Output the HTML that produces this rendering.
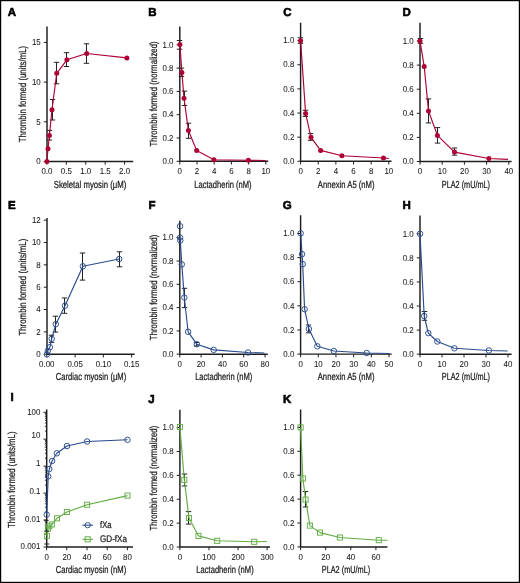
<!DOCTYPE html>
<html><head><meta charset="utf-8"><style>
html,body{margin:0;padding:0;background:#fff;}
svg{display:block;font-family:"Liberation Sans", sans-serif;will-change:transform;text-rendering:geometricPrecision;}
</style></head><body>
<svg width="520" height="583" viewBox="0 0 520 583">
<rect x="0" y="0" width="520" height="583" fill="#fff"/>
<path d="M47 26.5V161.5H133.2" fill="none" stroke="#1e1e1e" stroke-width="1.45"/>
<path d="M43.8 161.5H47" stroke="#1e1e1e" stroke-width="1"/>
<text transform="translate(40.7,164.2) scale(0.92,1)" font-size="8.6" fill="#1a1a1a" stroke="#1a1a1a" stroke-width="0.06" text-anchor="end">0</text>
<path d="M43.8 121.8H47" stroke="#1e1e1e" stroke-width="1"/>
<text transform="translate(40.7,124.5) scale(0.92,1)" font-size="8.6" fill="#1a1a1a" stroke="#1a1a1a" stroke-width="0.06" text-anchor="end">5</text>
<path d="M43.8 82.1H47" stroke="#1e1e1e" stroke-width="1"/>
<text transform="translate(40.7,84.8) scale(0.92,1)" font-size="8.6" fill="#1a1a1a" stroke="#1a1a1a" stroke-width="0.06" text-anchor="end">10</text>
<path d="M43.8 42.4H47" stroke="#1e1e1e" stroke-width="1"/>
<text transform="translate(40.7,45.1) scale(0.92,1)" font-size="8.6" fill="#1a1a1a" stroke="#1a1a1a" stroke-width="0.06" text-anchor="end">15</text>
<path d="M46.9 161.5V164.7" stroke="#1e1e1e" stroke-width="1"/>
<text transform="translate(46.9,174.4) scale(0.92,1)" font-size="8.6" fill="#1a1a1a" stroke="#1a1a1a" stroke-width="0.06" text-anchor="middle">0.0</text>
<path d="M66.33 161.5V164.7" stroke="#1e1e1e" stroke-width="1"/>
<text transform="translate(66.33,174.4) scale(0.92,1)" font-size="8.6" fill="#1a1a1a" stroke="#1a1a1a" stroke-width="0.06" text-anchor="middle">0.5</text>
<path d="M85.75 161.5V164.7" stroke="#1e1e1e" stroke-width="1"/>
<text transform="translate(85.75,174.4) scale(0.92,1)" font-size="8.6" fill="#1a1a1a" stroke="#1a1a1a" stroke-width="0.06" text-anchor="middle">1.0</text>
<path d="M105.18 161.5V164.7" stroke="#1e1e1e" stroke-width="1"/>
<text transform="translate(105.18,174.4) scale(0.92,1)" font-size="8.6" fill="#1a1a1a" stroke="#1a1a1a" stroke-width="0.06" text-anchor="middle">1.5</text>
<path d="M124.6 161.5V164.7" stroke="#1e1e1e" stroke-width="1"/>
<text transform="translate(124.6,174.4) scale(0.92,1)" font-size="8.6" fill="#1a1a1a" stroke="#1a1a1a" stroke-width="0.06" text-anchor="middle">2.0</text>
<text transform="translate(90,187.7)" font-size="10.2" fill="#1a1a1a" stroke="#1a1a1a" stroke-width="0.24" text-anchor="middle" textLength="72.6" lengthAdjust="spacingAndGlyphs">Skeletal myosin (μM)</text>
<text transform="translate(26.2,94.05) rotate(-90)" font-size="10.2" fill="#1a1a1a" stroke="#1a1a1a" stroke-width="0.24" text-anchor="middle" textLength="96.4" lengthAdjust="spacingAndGlyphs">Thrombin formed (units/mL)</text>
<text transform="translate(7.8,16.3)" font-size="11.5" fill="#000" stroke="#000" stroke-width="0.6" font-weight="bold">A</text>
<path d="M49.5 130.4V140M46.8 130.4h5.4M46.8 140h5.4" fill="none" stroke="#222" stroke-width="1"/>
<path d="M52.5 99.5V120M49.8 99.5h5.4M49.8 120h5.4" fill="none" stroke="#222" stroke-width="1"/>
<path d="M56.5 62.3V83.8M53.8 62.3h5.4M53.8 83.8h5.4" fill="none" stroke="#222" stroke-width="1"/>
<path d="M66.5 52.7V66.5M63.8 52.7h5.4M63.8 66.5h5.4" fill="none" stroke="#222" stroke-width="1"/>
<path d="M86.5 43.8V63.3M83.8 43.8h5.4M83.8 63.3h5.4" fill="none" stroke="#222" stroke-width="1"/>
<path d="M46.9 161.5 L48 148.8 L49.4 135.6 L52 109.7 L56.7 73.3 L66.9 59.8 L86.7 53.5 L126.9 57.9" fill="none" stroke="#ad0033" stroke-width="1.15" stroke-linejoin="round"/>
<circle cx="46.9" cy="161.5" r="2.5" fill="#ad0033"/>
<circle cx="48" cy="148.8" r="2.5" fill="#ad0033"/>
<circle cx="49.4" cy="135.6" r="2.5" fill="#ad0033"/>
<circle cx="52" cy="109.7" r="2.5" fill="#ad0033"/>
<circle cx="56.7" cy="73.3" r="2.5" fill="#ad0033"/>
<circle cx="66.9" cy="59.8" r="2.5" fill="#ad0033"/>
<circle cx="86.7" cy="53.5" r="2.5" fill="#ad0033"/>
<circle cx="126.9" cy="57.9" r="2.5" fill="#ad0033"/>
<path d="M179.8 26.5V161.3H268.3" fill="none" stroke="#1e1e1e" stroke-width="1.45"/>
<path d="M176.6 161.3H179.8" stroke="#1e1e1e" stroke-width="1"/>
<text transform="translate(173.5,164) scale(0.92,1)" font-size="8.6" fill="#1a1a1a" stroke="#1a1a1a" stroke-width="0.06" text-anchor="end">0.0</text>
<path d="M176.6 138H179.8" stroke="#1e1e1e" stroke-width="1"/>
<text transform="translate(173.5,140.7) scale(0.92,1)" font-size="8.6" fill="#1a1a1a" stroke="#1a1a1a" stroke-width="0.06" text-anchor="end">0.2</text>
<path d="M176.6 114.7H179.8" stroke="#1e1e1e" stroke-width="1"/>
<text transform="translate(173.5,117.4) scale(0.92,1)" font-size="8.6" fill="#1a1a1a" stroke="#1a1a1a" stroke-width="0.06" text-anchor="end">0.4</text>
<path d="M176.6 91.4H179.8" stroke="#1e1e1e" stroke-width="1"/>
<text transform="translate(173.5,94.1) scale(0.92,1)" font-size="8.6" fill="#1a1a1a" stroke="#1a1a1a" stroke-width="0.06" text-anchor="end">0.6</text>
<path d="M176.6 68.1H179.8" stroke="#1e1e1e" stroke-width="1"/>
<text transform="translate(173.5,70.8) scale(0.92,1)" font-size="8.6" fill="#1a1a1a" stroke="#1a1a1a" stroke-width="0.06" text-anchor="end">0.8</text>
<path d="M176.6 44.8H179.8" stroke="#1e1e1e" stroke-width="1"/>
<text transform="translate(173.5,47.5) scale(0.92,1)" font-size="8.6" fill="#1a1a1a" stroke="#1a1a1a" stroke-width="0.06" text-anchor="end">1.0</text>
<path d="M179.8 161.3V164.5" stroke="#1e1e1e" stroke-width="1"/>
<text transform="translate(179.8,174.2) scale(0.92,1)" font-size="8.6" fill="#1a1a1a" stroke="#1a1a1a" stroke-width="0.06" text-anchor="middle">0</text>
<path d="M197 161.3V164.5" stroke="#1e1e1e" stroke-width="1"/>
<text transform="translate(197,174.2) scale(0.92,1)" font-size="8.6" fill="#1a1a1a" stroke="#1a1a1a" stroke-width="0.06" text-anchor="middle">2</text>
<path d="M214.2 161.3V164.5" stroke="#1e1e1e" stroke-width="1"/>
<text transform="translate(214.2,174.2) scale(0.92,1)" font-size="8.6" fill="#1a1a1a" stroke="#1a1a1a" stroke-width="0.06" text-anchor="middle">4</text>
<path d="M231.4 161.3V164.5" stroke="#1e1e1e" stroke-width="1"/>
<text transform="translate(231.4,174.2) scale(0.92,1)" font-size="8.6" fill="#1a1a1a" stroke="#1a1a1a" stroke-width="0.06" text-anchor="middle">6</text>
<path d="M248.6 161.3V164.5" stroke="#1e1e1e" stroke-width="1"/>
<text transform="translate(248.6,174.2) scale(0.92,1)" font-size="8.6" fill="#1a1a1a" stroke="#1a1a1a" stroke-width="0.06" text-anchor="middle">8</text>
<path d="M265.8 161.3V164.5" stroke="#1e1e1e" stroke-width="1"/>
<text transform="translate(265.8,174.2) scale(0.92,1)" font-size="8.6" fill="#1a1a1a" stroke="#1a1a1a" stroke-width="0.06" text-anchor="middle">10</text>
<text transform="translate(222.9,187.5)" font-size="10.2" fill="#1a1a1a" stroke="#1a1a1a" stroke-width="0.24" text-anchor="middle" textLength="57.3" lengthAdjust="spacingAndGlyphs">Lactadherin (nM)</text>
<text transform="translate(156.8,93.9) rotate(-90)" font-size="10.2" fill="#1a1a1a" stroke="#1a1a1a" stroke-width="0.24" text-anchor="middle" textLength="105.1" lengthAdjust="spacingAndGlyphs">Thrombin formed (normalized)</text>
<text transform="translate(148.3,16)" font-size="11.5" fill="#000" stroke="#000" stroke-width="0.6" font-weight="bold">B</text>
<path d="M179.5 40.5V49.2M176.8 40.5h5.4M176.8 49.2h5.4" fill="none" stroke="#222" stroke-width="1"/>
<path d="M181.5 68.1V76.5M178.8 68.1h5.4M178.8 76.5h5.4" fill="none" stroke="#222" stroke-width="1"/>
<path d="M184.5 91.1V105.5M181.8 91.1h5.4M181.8 105.5h5.4" fill="none" stroke="#222" stroke-width="1"/>
<path d="M188.5 123.2V138.3M185.8 123.2h5.4M185.8 138.3h5.4" fill="none" stroke="#222" stroke-width="1"/>
<path d="M179.9 44.6 L181.9 72.4 L184 98.2 L188.4 130.5 L196.7 150.6 L213.9 159.7 L248.3 160.2 L265.7 160.5" fill="none" stroke="#ad0033" stroke-width="1.15" stroke-linejoin="round"/>
<circle cx="179.9" cy="44.6" r="2.5" fill="#ad0033"/>
<circle cx="181.9" cy="72.4" r="2.5" fill="#ad0033"/>
<circle cx="184" cy="98.2" r="2.5" fill="#ad0033"/>
<circle cx="188.4" cy="130.5" r="2.5" fill="#ad0033"/>
<circle cx="196.7" cy="150.6" r="2.5" fill="#ad0033"/>
<circle cx="213.9" cy="159.7" r="2.5" fill="#ad0033"/>
<circle cx="248.3" cy="160.2" r="2.5" fill="#ad0033"/>
<path d="M300.6 22.8V161.3H391.5" fill="none" stroke="#1e1e1e" stroke-width="1.45"/>
<path d="M297.4 161.3H300.6" stroke="#1e1e1e" stroke-width="1"/>
<text transform="translate(294.3,164) scale(0.92,1)" font-size="8.6" fill="#1a1a1a" stroke="#1a1a1a" stroke-width="0.06" text-anchor="end">0.0</text>
<path d="M297.4 137.16H300.6" stroke="#1e1e1e" stroke-width="1"/>
<text transform="translate(294.3,139.86) scale(0.92,1)" font-size="8.6" fill="#1a1a1a" stroke="#1a1a1a" stroke-width="0.06" text-anchor="end">0.2</text>
<path d="M297.4 113.02H300.6" stroke="#1e1e1e" stroke-width="1"/>
<text transform="translate(294.3,115.72) scale(0.92,1)" font-size="8.6" fill="#1a1a1a" stroke="#1a1a1a" stroke-width="0.06" text-anchor="end">0.4</text>
<path d="M297.4 88.88H300.6" stroke="#1e1e1e" stroke-width="1"/>
<text transform="translate(294.3,91.58) scale(0.92,1)" font-size="8.6" fill="#1a1a1a" stroke="#1a1a1a" stroke-width="0.06" text-anchor="end">0.6</text>
<path d="M297.4 64.74H300.6" stroke="#1e1e1e" stroke-width="1"/>
<text transform="translate(294.3,67.44) scale(0.92,1)" font-size="8.6" fill="#1a1a1a" stroke="#1a1a1a" stroke-width="0.06" text-anchor="end">0.8</text>
<path d="M297.4 40.6H300.6" stroke="#1e1e1e" stroke-width="1"/>
<text transform="translate(294.3,43.3) scale(0.92,1)" font-size="8.6" fill="#1a1a1a" stroke="#1a1a1a" stroke-width="0.06" text-anchor="end">1.0</text>
<path d="M300.6 161.3V164.5" stroke="#1e1e1e" stroke-width="1"/>
<text transform="translate(300.6,174.2) scale(0.92,1)" font-size="8.6" fill="#1a1a1a" stroke="#1a1a1a" stroke-width="0.06" text-anchor="middle">0</text>
<path d="M318.24 161.3V164.5" stroke="#1e1e1e" stroke-width="1"/>
<text transform="translate(318.24,174.2) scale(0.92,1)" font-size="8.6" fill="#1a1a1a" stroke="#1a1a1a" stroke-width="0.06" text-anchor="middle">2</text>
<path d="M335.88 161.3V164.5" stroke="#1e1e1e" stroke-width="1"/>
<text transform="translate(335.88,174.2) scale(0.92,1)" font-size="8.6" fill="#1a1a1a" stroke="#1a1a1a" stroke-width="0.06" text-anchor="middle">4</text>
<path d="M353.52 161.3V164.5" stroke="#1e1e1e" stroke-width="1"/>
<text transform="translate(353.52,174.2) scale(0.92,1)" font-size="8.6" fill="#1a1a1a" stroke="#1a1a1a" stroke-width="0.06" text-anchor="middle">6</text>
<path d="M371.16 161.3V164.5" stroke="#1e1e1e" stroke-width="1"/>
<text transform="translate(371.16,174.2) scale(0.92,1)" font-size="8.6" fill="#1a1a1a" stroke="#1a1a1a" stroke-width="0.06" text-anchor="middle">8</text>
<path d="M388.8 161.3V164.5" stroke="#1e1e1e" stroke-width="1"/>
<text transform="translate(388.8,174.2) scale(0.92,1)" font-size="8.6" fill="#1a1a1a" stroke="#1a1a1a" stroke-width="0.06" text-anchor="middle">10</text>
<text transform="translate(346.2,187.5)" font-size="10.2" fill="#1a1a1a" stroke="#1a1a1a" stroke-width="0.24" text-anchor="middle" textLength="56.7" lengthAdjust="spacingAndGlyphs">Annexin A5 (nM)</text>
<text transform="translate(283.2,16.3)" font-size="11.5" fill="#000" stroke="#000" stroke-width="0.6" font-weight="bold">C</text>
<path d="M300.5 37.8V43.3M297.8 37.8h5.4M297.8 43.3h5.4" fill="none" stroke="#222" stroke-width="1"/>
<path d="M305.5 110.3V116.4M302.8 110.3h5.4M302.8 116.4h5.4" fill="none" stroke="#222" stroke-width="1"/>
<path d="M310.5 133.6V140.3M307.8 133.6h5.4M307.8 140.3h5.4" fill="none" stroke="#222" stroke-width="1"/>
<path d="M300.6 40.65 L305.6 113.4 L311 137.3 L320.6 150.4 L341.9 155.8 L383.5 158 L388.9 158.5" fill="none" stroke="#ad0033" stroke-width="1.15" stroke-linejoin="round"/>
<circle cx="300.6" cy="40.65" r="2.5" fill="#ad0033"/>
<circle cx="305.6" cy="113.4" r="2.5" fill="#ad0033"/>
<circle cx="311" cy="137.3" r="2.5" fill="#ad0033"/>
<circle cx="320.6" cy="150.4" r="2.5" fill="#ad0033"/>
<circle cx="341.9" cy="155.8" r="2.5" fill="#ad0033"/>
<circle cx="383.5" cy="158" r="2.5" fill="#ad0033"/>
<path d="M420 22.8V161.5H511.6" fill="none" stroke="#1e1e1e" stroke-width="1.45"/>
<path d="M416.8 161.5H420" stroke="#1e1e1e" stroke-width="1"/>
<text transform="translate(413.7,164.2) scale(0.92,1)" font-size="8.6" fill="#1a1a1a" stroke="#1a1a1a" stroke-width="0.06" text-anchor="end">0.0</text>
<path d="M416.8 137.4H420" stroke="#1e1e1e" stroke-width="1"/>
<text transform="translate(413.7,140.1) scale(0.92,1)" font-size="8.6" fill="#1a1a1a" stroke="#1a1a1a" stroke-width="0.06" text-anchor="end">0.2</text>
<path d="M416.8 113.3H420" stroke="#1e1e1e" stroke-width="1"/>
<text transform="translate(413.7,116) scale(0.92,1)" font-size="8.6" fill="#1a1a1a" stroke="#1a1a1a" stroke-width="0.06" text-anchor="end">0.4</text>
<path d="M416.8 89.2H420" stroke="#1e1e1e" stroke-width="1"/>
<text transform="translate(413.7,91.9) scale(0.92,1)" font-size="8.6" fill="#1a1a1a" stroke="#1a1a1a" stroke-width="0.06" text-anchor="end">0.6</text>
<path d="M416.8 65.1H420" stroke="#1e1e1e" stroke-width="1"/>
<text transform="translate(413.7,67.8) scale(0.92,1)" font-size="8.6" fill="#1a1a1a" stroke="#1a1a1a" stroke-width="0.06" text-anchor="end">0.8</text>
<path d="M416.8 41H420" stroke="#1e1e1e" stroke-width="1"/>
<text transform="translate(413.7,43.7) scale(0.92,1)" font-size="8.6" fill="#1a1a1a" stroke="#1a1a1a" stroke-width="0.06" text-anchor="end">1.0</text>
<path d="M420 161.5V164.7" stroke="#1e1e1e" stroke-width="1"/>
<text transform="translate(420,174.4) scale(0.92,1)" font-size="8.6" fill="#1a1a1a" stroke="#1a1a1a" stroke-width="0.06" text-anchor="middle">0</text>
<path d="M442.2 161.5V164.7" stroke="#1e1e1e" stroke-width="1"/>
<text transform="translate(442.2,174.4) scale(0.92,1)" font-size="8.6" fill="#1a1a1a" stroke="#1a1a1a" stroke-width="0.06" text-anchor="middle">10</text>
<path d="M464.4 161.5V164.7" stroke="#1e1e1e" stroke-width="1"/>
<text transform="translate(464.4,174.4) scale(0.92,1)" font-size="8.6" fill="#1a1a1a" stroke="#1a1a1a" stroke-width="0.06" text-anchor="middle">20</text>
<path d="M486.6 161.5V164.7" stroke="#1e1e1e" stroke-width="1"/>
<text transform="translate(486.6,174.4) scale(0.92,1)" font-size="8.6" fill="#1a1a1a" stroke="#1a1a1a" stroke-width="0.06" text-anchor="middle">30</text>
<path d="M508.8 161.5V164.7" stroke="#1e1e1e" stroke-width="1"/>
<text transform="translate(508.8,174.4) scale(0.92,1)" font-size="8.6" fill="#1a1a1a" stroke="#1a1a1a" stroke-width="0.06" text-anchor="middle">40</text>
<text transform="translate(465.9,187.7)" font-size="10.2" fill="#1a1a1a" stroke="#1a1a1a" stroke-width="0.24" text-anchor="middle" textLength="48.2" lengthAdjust="spacingAndGlyphs">PLA2 (mU/mL)</text>
<text transform="translate(402.4,16)" font-size="11.5" fill="#000" stroke="#000" stroke-width="0.6" font-weight="bold">D</text>
<path d="M420.5 38.5V43.3M417.8 38.5h5.4M417.8 43.3h5.4" fill="none" stroke="#222" stroke-width="1"/>
<path d="M428.5 98.9V122.9M425.8 98.9h5.4M425.8 122.9h5.4" fill="none" stroke="#222" stroke-width="1"/>
<path d="M437.5 127.6V143.1M434.8 127.6h5.4M434.8 143.1h5.4" fill="none" stroke="#222" stroke-width="1"/>
<path d="M454.5 148V155.2M451.8 148h5.4M451.8 155.2h5.4" fill="none" stroke="#222" stroke-width="1"/>
<path d="M420 40.9 L424.2 66.4 L428.5 111 L437.4 135.4 L454.5 152.1 L488.9 158.5 L508 159.4" fill="none" stroke="#ad0033" stroke-width="1.15" stroke-linejoin="round"/>
<circle cx="420" cy="40.9" r="2.5" fill="#ad0033"/>
<circle cx="424.2" cy="66.4" r="2.5" fill="#ad0033"/>
<circle cx="428.5" cy="111" r="2.5" fill="#ad0033"/>
<circle cx="437.4" cy="135.4" r="2.5" fill="#ad0033"/>
<circle cx="454.5" cy="152.1" r="2.5" fill="#ad0033"/>
<circle cx="488.9" cy="158.5" r="2.5" fill="#ad0033"/>
<path d="M47 218V354.2H134.7" fill="none" stroke="#1e1e1e" stroke-width="1.45"/>
<path d="M43.8 354.2H47" stroke="#1e1e1e" stroke-width="1"/>
<text transform="translate(40.7,356.9) scale(0.92,1)" font-size="8.6" fill="#1a1a1a" stroke="#1a1a1a" stroke-width="0.06" text-anchor="end">0</text>
<path d="M43.8 331.86H47" stroke="#1e1e1e" stroke-width="1"/>
<text transform="translate(40.7,334.56) scale(0.92,1)" font-size="8.6" fill="#1a1a1a" stroke="#1a1a1a" stroke-width="0.06" text-anchor="end">2</text>
<path d="M43.8 309.52H47" stroke="#1e1e1e" stroke-width="1"/>
<text transform="translate(40.7,312.22) scale(0.92,1)" font-size="8.6" fill="#1a1a1a" stroke="#1a1a1a" stroke-width="0.06" text-anchor="end">4</text>
<path d="M43.8 287.18H47" stroke="#1e1e1e" stroke-width="1"/>
<text transform="translate(40.7,289.88) scale(0.92,1)" font-size="8.6" fill="#1a1a1a" stroke="#1a1a1a" stroke-width="0.06" text-anchor="end">6</text>
<path d="M43.8 264.84H47" stroke="#1e1e1e" stroke-width="1"/>
<text transform="translate(40.7,267.54) scale(0.92,1)" font-size="8.6" fill="#1a1a1a" stroke="#1a1a1a" stroke-width="0.06" text-anchor="end">8</text>
<path d="M43.8 242.5H47" stroke="#1e1e1e" stroke-width="1"/>
<text transform="translate(40.7,245.2) scale(0.92,1)" font-size="8.6" fill="#1a1a1a" stroke="#1a1a1a" stroke-width="0.06" text-anchor="end">10</text>
<path d="M43.8 220.16H47" stroke="#1e1e1e" stroke-width="1"/>
<text transform="translate(40.7,222.86) scale(0.92,1)" font-size="8.6" fill="#1a1a1a" stroke="#1a1a1a" stroke-width="0.06" text-anchor="end">12</text>
<path d="M46.8 354.2V357.4" stroke="#1e1e1e" stroke-width="1"/>
<text transform="translate(46.8,367.1) scale(0.92,1)" font-size="8.6" fill="#1a1a1a" stroke="#1a1a1a" stroke-width="0.06" text-anchor="middle">0.00</text>
<path d="M75.08 354.2V357.4" stroke="#1e1e1e" stroke-width="1"/>
<text transform="translate(75.08,367.1) scale(0.92,1)" font-size="8.6" fill="#1a1a1a" stroke="#1a1a1a" stroke-width="0.06" text-anchor="middle">0.05</text>
<path d="M103.35 354.2V357.4" stroke="#1e1e1e" stroke-width="1"/>
<text transform="translate(103.35,367.1) scale(0.92,1)" font-size="8.6" fill="#1a1a1a" stroke="#1a1a1a" stroke-width="0.06" text-anchor="middle">0.10</text>
<path d="M131.62 354.2V357.4" stroke="#1e1e1e" stroke-width="1"/>
<text transform="translate(131.62,367.1) scale(0.92,1)" font-size="8.6" fill="#1a1a1a" stroke="#1a1a1a" stroke-width="0.06" text-anchor="middle">0.15</text>
<text transform="translate(91,380.4)" font-size="10.2" fill="#1a1a1a" stroke="#1a1a1a" stroke-width="0.24" text-anchor="middle" textLength="70.5" lengthAdjust="spacingAndGlyphs">Cardiac myosin (μM)</text>
<text transform="translate(25.9,287.15) rotate(-90)" font-size="10.2" fill="#1a1a1a" stroke="#1a1a1a" stroke-width="0.24" text-anchor="middle" textLength="96.8" lengthAdjust="spacingAndGlyphs">Thrombin formed (units/mL)</text>
<text transform="translate(8,208.6)" font-size="11.5" fill="#000" stroke="#000" stroke-width="0.6" font-weight="bold">E</text>
<path d="M51.5 335.2V342.4M48.8 335.2h5.4M48.8 342.4h5.4" fill="none" stroke="#222" stroke-width="1"/>
<path d="M55.5 316.2V332.1M52.8 316.2h5.4M52.8 332.1h5.4" fill="none" stroke="#222" stroke-width="1"/>
<path d="M64.5 298V313.3M61.8 298h5.4M61.8 313.3h5.4" fill="none" stroke="#222" stroke-width="1"/>
<path d="M82.5 253V280.1M79.8 253h5.4M79.8 280.1h5.4" fill="none" stroke="#222" stroke-width="1"/>
<path d="M119.5 251.8V266.8M116.8 251.8h5.4M116.8 266.8h5.4" fill="none" stroke="#222" stroke-width="1"/>
<path d="M46.9 354.4 L47.8 350.8 L49.9 347.2 L51.7 338.8 L55.8 324.2 L65 305.7 L82.9 266.3 L119.2 259" fill="none" stroke="#294b8d" stroke-width="1.15" stroke-linejoin="round"/>
<circle cx="46.9" cy="354.4" r="2.75" fill="none" stroke="#294b8d" stroke-width="0.95"/>
<circle cx="47.8" cy="350.8" r="2.75" fill="none" stroke="#294b8d" stroke-width="0.95"/>
<circle cx="49.9" cy="347.2" r="2.75" fill="none" stroke="#294b8d" stroke-width="0.95"/>
<circle cx="51.7" cy="338.8" r="2.75" fill="none" stroke="#294b8d" stroke-width="0.95"/>
<circle cx="55.8" cy="324.2" r="2.75" fill="none" stroke="#294b8d" stroke-width="0.95"/>
<circle cx="65" cy="305.7" r="2.75" fill="none" stroke="#294b8d" stroke-width="0.95"/>
<circle cx="82.9" cy="266.3" r="2.75" fill="none" stroke="#294b8d" stroke-width="0.95"/>
<circle cx="119.2" cy="259" r="2.75" fill="none" stroke="#294b8d" stroke-width="0.95"/>
<path d="M179.8 220.8V354.2H267.8" fill="none" stroke="#1e1e1e" stroke-width="1.45"/>
<path d="M176.6 354.2H179.8" stroke="#1e1e1e" stroke-width="1"/>
<text transform="translate(173.5,356.9) scale(0.92,1)" font-size="8.6" fill="#1a1a1a" stroke="#1a1a1a" stroke-width="0.06" text-anchor="end">0.0</text>
<path d="M176.6 330.9H179.8" stroke="#1e1e1e" stroke-width="1"/>
<text transform="translate(173.5,333.6) scale(0.92,1)" font-size="8.6" fill="#1a1a1a" stroke="#1a1a1a" stroke-width="0.06" text-anchor="end">0.2</text>
<path d="M176.6 307.6H179.8" stroke="#1e1e1e" stroke-width="1"/>
<text transform="translate(173.5,310.3) scale(0.92,1)" font-size="8.6" fill="#1a1a1a" stroke="#1a1a1a" stroke-width="0.06" text-anchor="end">0.4</text>
<path d="M176.6 284.3H179.8" stroke="#1e1e1e" stroke-width="1"/>
<text transform="translate(173.5,287) scale(0.92,1)" font-size="8.6" fill="#1a1a1a" stroke="#1a1a1a" stroke-width="0.06" text-anchor="end">0.6</text>
<path d="M176.6 261H179.8" stroke="#1e1e1e" stroke-width="1"/>
<text transform="translate(173.5,263.7) scale(0.92,1)" font-size="8.6" fill="#1a1a1a" stroke="#1a1a1a" stroke-width="0.06" text-anchor="end">0.8</text>
<path d="M176.6 237.7H179.8" stroke="#1e1e1e" stroke-width="1"/>
<text transform="translate(173.5,240.4) scale(0.92,1)" font-size="8.6" fill="#1a1a1a" stroke="#1a1a1a" stroke-width="0.06" text-anchor="end">1.0</text>
<path d="M179.8 354.2V357.4" stroke="#1e1e1e" stroke-width="1"/>
<text transform="translate(179.8,367.1) scale(0.92,1)" font-size="8.6" fill="#1a1a1a" stroke="#1a1a1a" stroke-width="0.06" text-anchor="middle">0</text>
<path d="M201.1 354.2V357.4" stroke="#1e1e1e" stroke-width="1"/>
<text transform="translate(201.1,367.1) scale(0.92,1)" font-size="8.6" fill="#1a1a1a" stroke="#1a1a1a" stroke-width="0.06" text-anchor="middle">20</text>
<path d="M222.4 354.2V357.4" stroke="#1e1e1e" stroke-width="1"/>
<text transform="translate(222.4,367.1) scale(0.92,1)" font-size="8.6" fill="#1a1a1a" stroke="#1a1a1a" stroke-width="0.06" text-anchor="middle">40</text>
<path d="M243.7 354.2V357.4" stroke="#1e1e1e" stroke-width="1"/>
<text transform="translate(243.7,367.1) scale(0.92,1)" font-size="8.6" fill="#1a1a1a" stroke="#1a1a1a" stroke-width="0.06" text-anchor="middle">60</text>
<path d="M265 354.2V357.4" stroke="#1e1e1e" stroke-width="1"/>
<text transform="translate(265,367.1) scale(0.92,1)" font-size="8.6" fill="#1a1a1a" stroke="#1a1a1a" stroke-width="0.06" text-anchor="middle">80</text>
<text transform="translate(223.7,380.4)" font-size="10.2" fill="#1a1a1a" stroke="#1a1a1a" stroke-width="0.24" text-anchor="middle" textLength="57.1" lengthAdjust="spacingAndGlyphs">Lactadherin (nM)</text>
<text transform="translate(156.9,287.45) rotate(-90)" font-size="10.2" fill="#1a1a1a" stroke="#1a1a1a" stroke-width="0.24" text-anchor="middle" textLength="105.4" lengthAdjust="spacingAndGlyphs">Thrombin formed (normalized)</text>
<text transform="translate(148.5,208.7)" font-size="11.5" fill="#000" stroke="#000" stroke-width="0.6" font-weight="bold">F</text>
<path d="M184.5 288.3V307.6M181.8 288.3h5.4M181.8 307.6h5.4" fill="none" stroke="#222" stroke-width="1"/>
<path d="M196.5 342.5V346M193.8 342.5h5.4M193.8 346h5.4" fill="none" stroke="#222" stroke-width="1"/>
<path d="M180.1 237.6 L180.3 240.6 L181.8 264.4 L184.3 297.5 L188.1 331.8 L196.8 344.2 L213.7 349.9 L248 352.5 L264.4 353" fill="none" stroke="#294b8d" stroke-width="1.15" stroke-linejoin="round"/>
<circle cx="180.1" cy="226.2" r="2.75" fill="none" stroke="#294b8d" stroke-width="0.95"/>
<circle cx="180.1" cy="237.6" r="2.75" fill="none" stroke="#294b8d" stroke-width="0.95"/>
<circle cx="180.3" cy="240.6" r="2.75" fill="none" stroke="#294b8d" stroke-width="0.95"/>
<circle cx="181.8" cy="264.4" r="2.75" fill="none" stroke="#294b8d" stroke-width="0.95"/>
<circle cx="184.3" cy="297.5" r="2.75" fill="none" stroke="#294b8d" stroke-width="0.95"/>
<circle cx="188.1" cy="331.8" r="2.75" fill="none" stroke="#294b8d" stroke-width="0.95"/>
<circle cx="196.8" cy="344.2" r="2.75" fill="none" stroke="#294b8d" stroke-width="0.95"/>
<circle cx="213.7" cy="349.9" r="2.75" fill="none" stroke="#294b8d" stroke-width="0.95"/>
<circle cx="248" cy="352.5" r="2.75" fill="none" stroke="#294b8d" stroke-width="0.95"/>
<path d="M300.6 215.3V354.1H391.7" fill="none" stroke="#1e1e1e" stroke-width="1.45"/>
<path d="M297.4 354.1H300.6" stroke="#1e1e1e" stroke-width="1"/>
<text transform="translate(294.3,356.8) scale(0.92,1)" font-size="8.6" fill="#1a1a1a" stroke="#1a1a1a" stroke-width="0.06" text-anchor="end">0.0</text>
<path d="M297.4 329.98H300.6" stroke="#1e1e1e" stroke-width="1"/>
<text transform="translate(294.3,332.68) scale(0.92,1)" font-size="8.6" fill="#1a1a1a" stroke="#1a1a1a" stroke-width="0.06" text-anchor="end">0.2</text>
<path d="M297.4 305.86H300.6" stroke="#1e1e1e" stroke-width="1"/>
<text transform="translate(294.3,308.56) scale(0.92,1)" font-size="8.6" fill="#1a1a1a" stroke="#1a1a1a" stroke-width="0.06" text-anchor="end">0.4</text>
<path d="M297.4 281.74H300.6" stroke="#1e1e1e" stroke-width="1"/>
<text transform="translate(294.3,284.44) scale(0.92,1)" font-size="8.6" fill="#1a1a1a" stroke="#1a1a1a" stroke-width="0.06" text-anchor="end">0.6</text>
<path d="M297.4 257.62H300.6" stroke="#1e1e1e" stroke-width="1"/>
<text transform="translate(294.3,260.32) scale(0.92,1)" font-size="8.6" fill="#1a1a1a" stroke="#1a1a1a" stroke-width="0.06" text-anchor="end">0.8</text>
<path d="M297.4 233.5H300.6" stroke="#1e1e1e" stroke-width="1"/>
<text transform="translate(294.3,236.2) scale(0.92,1)" font-size="8.6" fill="#1a1a1a" stroke="#1a1a1a" stroke-width="0.06" text-anchor="end">1.0</text>
<path d="M300.6 354.1V357.3" stroke="#1e1e1e" stroke-width="1"/>
<text transform="translate(300.6,367) scale(0.92,1)" font-size="8.6" fill="#1a1a1a" stroke="#1a1a1a" stroke-width="0.06" text-anchor="middle">0</text>
<path d="M318.28 354.1V357.3" stroke="#1e1e1e" stroke-width="1"/>
<text transform="translate(318.28,367) scale(0.92,1)" font-size="8.6" fill="#1a1a1a" stroke="#1a1a1a" stroke-width="0.06" text-anchor="middle">10</text>
<path d="M335.96 354.1V357.3" stroke="#1e1e1e" stroke-width="1"/>
<text transform="translate(335.96,367) scale(0.92,1)" font-size="8.6" fill="#1a1a1a" stroke="#1a1a1a" stroke-width="0.06" text-anchor="middle">20</text>
<path d="M353.64 354.1V357.3" stroke="#1e1e1e" stroke-width="1"/>
<text transform="translate(353.64,367) scale(0.92,1)" font-size="8.6" fill="#1a1a1a" stroke="#1a1a1a" stroke-width="0.06" text-anchor="middle">30</text>
<path d="M371.32 354.1V357.3" stroke="#1e1e1e" stroke-width="1"/>
<text transform="translate(371.32,367) scale(0.92,1)" font-size="8.6" fill="#1a1a1a" stroke="#1a1a1a" stroke-width="0.06" text-anchor="middle">40</text>
<path d="M389 354.1V357.3" stroke="#1e1e1e" stroke-width="1"/>
<text transform="translate(389,367) scale(0.92,1)" font-size="8.6" fill="#1a1a1a" stroke="#1a1a1a" stroke-width="0.06" text-anchor="middle">50</text>
<text transform="translate(346.1,380.3)" font-size="10.2" fill="#1a1a1a" stroke="#1a1a1a" stroke-width="0.24" text-anchor="middle" textLength="56.7" lengthAdjust="spacingAndGlyphs">Annexin A5 (nM)</text>
<text transform="translate(282.8,209.1)" font-size="11.5" fill="#000" stroke="#000" stroke-width="0.6" font-weight="bold">G</text>
<path d="M308.5 325V332.8M305.8 325h5.4M305.8 332.8h5.4" fill="none" stroke="#222" stroke-width="1"/>
<path d="M300.7 233.3 L302 254.1 L302.7 264.1 L304.6 309.2 L308.9 329 L317.3 346.3 L333.8 351 L366.7 353 L389.2 353.5" fill="none" stroke="#294b8d" stroke-width="1.15" stroke-linejoin="round"/>
<circle cx="300.7" cy="233.3" r="2.75" fill="none" stroke="#294b8d" stroke-width="0.95"/>
<circle cx="302" cy="254.1" r="2.75" fill="none" stroke="#294b8d" stroke-width="0.95"/>
<circle cx="302.7" cy="264.1" r="2.75" fill="none" stroke="#294b8d" stroke-width="0.95"/>
<circle cx="304.6" cy="309.2" r="2.75" fill="none" stroke="#294b8d" stroke-width="0.95"/>
<circle cx="308.9" cy="329" r="2.75" fill="none" stroke="#294b8d" stroke-width="0.95"/>
<circle cx="317.3" cy="346.3" r="2.75" fill="none" stroke="#294b8d" stroke-width="0.95"/>
<circle cx="333.8" cy="351" r="2.75" fill="none" stroke="#294b8d" stroke-width="0.95"/>
<circle cx="366.7" cy="353" r="2.75" fill="none" stroke="#294b8d" stroke-width="0.95"/>
<path d="M420 215.4V354.2H511.6" fill="none" stroke="#1e1e1e" stroke-width="1.45"/>
<path d="M416.8 354.2H420" stroke="#1e1e1e" stroke-width="1"/>
<text transform="translate(413.7,356.9) scale(0.92,1)" font-size="8.6" fill="#1a1a1a" stroke="#1a1a1a" stroke-width="0.06" text-anchor="end">0.0</text>
<path d="M416.8 330.12H420" stroke="#1e1e1e" stroke-width="1"/>
<text transform="translate(413.7,332.82) scale(0.92,1)" font-size="8.6" fill="#1a1a1a" stroke="#1a1a1a" stroke-width="0.06" text-anchor="end">0.2</text>
<path d="M416.8 306.04H420" stroke="#1e1e1e" stroke-width="1"/>
<text transform="translate(413.7,308.74) scale(0.92,1)" font-size="8.6" fill="#1a1a1a" stroke="#1a1a1a" stroke-width="0.06" text-anchor="end">0.4</text>
<path d="M416.8 281.96H420" stroke="#1e1e1e" stroke-width="1"/>
<text transform="translate(413.7,284.66) scale(0.92,1)" font-size="8.6" fill="#1a1a1a" stroke="#1a1a1a" stroke-width="0.06" text-anchor="end">0.6</text>
<path d="M416.8 257.88H420" stroke="#1e1e1e" stroke-width="1"/>
<text transform="translate(413.7,260.58) scale(0.92,1)" font-size="8.6" fill="#1a1a1a" stroke="#1a1a1a" stroke-width="0.06" text-anchor="end">0.8</text>
<path d="M416.8 233.8H420" stroke="#1e1e1e" stroke-width="1"/>
<text transform="translate(413.7,236.5) scale(0.92,1)" font-size="8.6" fill="#1a1a1a" stroke="#1a1a1a" stroke-width="0.06" text-anchor="end">1.0</text>
<path d="M420 354.2V357.4" stroke="#1e1e1e" stroke-width="1"/>
<text transform="translate(420,367.1) scale(0.92,1)" font-size="8.6" fill="#1a1a1a" stroke="#1a1a1a" stroke-width="0.06" text-anchor="middle">0</text>
<path d="M442 354.2V357.4" stroke="#1e1e1e" stroke-width="1"/>
<text transform="translate(442,367.1) scale(0.92,1)" font-size="8.6" fill="#1a1a1a" stroke="#1a1a1a" stroke-width="0.06" text-anchor="middle">10</text>
<path d="M464 354.2V357.4" stroke="#1e1e1e" stroke-width="1"/>
<text transform="translate(464,367.1) scale(0.92,1)" font-size="8.6" fill="#1a1a1a" stroke="#1a1a1a" stroke-width="0.06" text-anchor="middle">20</text>
<path d="M486 354.2V357.4" stroke="#1e1e1e" stroke-width="1"/>
<text transform="translate(486,367.1) scale(0.92,1)" font-size="8.6" fill="#1a1a1a" stroke="#1a1a1a" stroke-width="0.06" text-anchor="middle">30</text>
<path d="M508 354.2V357.4" stroke="#1e1e1e" stroke-width="1"/>
<text transform="translate(508,367.1) scale(0.92,1)" font-size="8.6" fill="#1a1a1a" stroke="#1a1a1a" stroke-width="0.06" text-anchor="middle">40</text>
<text transform="translate(465.9,380.4)" font-size="10.2" fill="#1a1a1a" stroke="#1a1a1a" stroke-width="0.24" text-anchor="middle" textLength="48.2" lengthAdjust="spacingAndGlyphs">PLA2 (mU/mL)</text>
<text transform="translate(402.4,208.7)" font-size="11.5" fill="#000" stroke="#000" stroke-width="0.6" font-weight="bold">H</text>
<path d="M424.5 311.5V320.3M421.8 311.5h5.4M421.8 320.3h5.4" fill="none" stroke="#222" stroke-width="1"/>
<path d="M420 233.8 L424.2 316 L428.3 333.1 L437.3 341.5 L454.4 348.3 L488.9 350.5 L507.7 351" fill="none" stroke="#294b8d" stroke-width="1.15" stroke-linejoin="round"/>
<circle cx="420" cy="233.8" r="2.75" fill="none" stroke="#294b8d" stroke-width="0.95"/>
<circle cx="424.2" cy="316" r="2.75" fill="none" stroke="#294b8d" stroke-width="0.95"/>
<circle cx="428.3" cy="333.1" r="2.75" fill="none" stroke="#294b8d" stroke-width="0.95"/>
<circle cx="437.3" cy="341.5" r="2.75" fill="none" stroke="#294b8d" stroke-width="0.95"/>
<circle cx="454.4" cy="348.3" r="2.75" fill="none" stroke="#294b8d" stroke-width="0.95"/>
<circle cx="488.9" cy="350.5" r="2.75" fill="none" stroke="#294b8d" stroke-width="0.95"/>
<path d="M46.7 409.6V547H133" fill="none" stroke="#1e1e1e" stroke-width="1.45"/>
<path d="M43.5 547H46.7" stroke="#1e1e1e" stroke-width="1"/>
<text transform="translate(40.4,549.3) scale(0.92,1)" font-size="8.6" fill="#1a1a1a" stroke="#1a1a1a" stroke-width="0.06" text-anchor="end">0.001</text>
<path d="M43.5 520.05H46.7" stroke="#1e1e1e" stroke-width="1"/>
<text transform="translate(40.4,522) scale(0.92,1)" font-size="8.6" fill="#1a1a1a" stroke="#1a1a1a" stroke-width="0.06" text-anchor="end">0.01</text>
<path d="M43.5 493.1H46.7" stroke="#1e1e1e" stroke-width="1"/>
<text transform="translate(40.4,493.9) scale(0.92,1)" font-size="8.6" fill="#1a1a1a" stroke="#1a1a1a" stroke-width="0.06" text-anchor="end">0.1</text>
<path d="M43.5 466.15H46.7" stroke="#1e1e1e" stroke-width="1"/>
<text transform="translate(40.4,466.3) scale(0.92,1)" font-size="8.6" fill="#1a1a1a" stroke="#1a1a1a" stroke-width="0.06" text-anchor="end">1</text>
<path d="M43.5 439.2H46.7" stroke="#1e1e1e" stroke-width="1"/>
<text transform="translate(40.4,438.1) scale(0.92,1)" font-size="8.6" fill="#1a1a1a" stroke="#1a1a1a" stroke-width="0.06" text-anchor="end">10</text>
<path d="M43.5 412.25H46.7" stroke="#1e1e1e" stroke-width="1"/>
<text transform="translate(40.4,414.8) scale(0.92,1)" font-size="8.6" fill="#1a1a1a" stroke="#1a1a1a" stroke-width="0.06" text-anchor="end">100</text>
<path d="M44.9 538.89H46.7" stroke="#1e1e1e" stroke-width="0.9"/>
<path d="M44.9 534.14H46.7" stroke="#1e1e1e" stroke-width="0.9"/>
<path d="M44.9 530.77H46.7" stroke="#1e1e1e" stroke-width="0.9"/>
<path d="M44.9 528.16H46.7" stroke="#1e1e1e" stroke-width="0.9"/>
<path d="M44.9 526.03H46.7" stroke="#1e1e1e" stroke-width="0.9"/>
<path d="M44.9 524.22H46.7" stroke="#1e1e1e" stroke-width="0.9"/>
<path d="M44.9 522.66H46.7" stroke="#1e1e1e" stroke-width="0.9"/>
<path d="M44.9 521.28H46.7" stroke="#1e1e1e" stroke-width="0.9"/>
<path d="M44.9 511.94H46.7" stroke="#1e1e1e" stroke-width="0.9"/>
<path d="M44.9 507.19H46.7" stroke="#1e1e1e" stroke-width="0.9"/>
<path d="M44.9 503.82H46.7" stroke="#1e1e1e" stroke-width="0.9"/>
<path d="M44.9 501.21H46.7" stroke="#1e1e1e" stroke-width="0.9"/>
<path d="M44.9 499.08H46.7" stroke="#1e1e1e" stroke-width="0.9"/>
<path d="M44.9 497.27H46.7" stroke="#1e1e1e" stroke-width="0.9"/>
<path d="M44.9 495.71H46.7" stroke="#1e1e1e" stroke-width="0.9"/>
<path d="M44.9 494.33H46.7" stroke="#1e1e1e" stroke-width="0.9"/>
<path d="M44.9 484.99H46.7" stroke="#1e1e1e" stroke-width="0.9"/>
<path d="M44.9 480.24H46.7" stroke="#1e1e1e" stroke-width="0.9"/>
<path d="M44.9 476.87H46.7" stroke="#1e1e1e" stroke-width="0.9"/>
<path d="M44.9 474.26H46.7" stroke="#1e1e1e" stroke-width="0.9"/>
<path d="M44.9 472.13H46.7" stroke="#1e1e1e" stroke-width="0.9"/>
<path d="M44.9 470.32H46.7" stroke="#1e1e1e" stroke-width="0.9"/>
<path d="M44.9 468.76H46.7" stroke="#1e1e1e" stroke-width="0.9"/>
<path d="M44.9 467.38H46.7" stroke="#1e1e1e" stroke-width="0.9"/>
<path d="M44.9 458.04H46.7" stroke="#1e1e1e" stroke-width="0.9"/>
<path d="M44.9 453.29H46.7" stroke="#1e1e1e" stroke-width="0.9"/>
<path d="M44.9 449.92H46.7" stroke="#1e1e1e" stroke-width="0.9"/>
<path d="M44.9 447.31H46.7" stroke="#1e1e1e" stroke-width="0.9"/>
<path d="M44.9 445.18H46.7" stroke="#1e1e1e" stroke-width="0.9"/>
<path d="M44.9 443.37H46.7" stroke="#1e1e1e" stroke-width="0.9"/>
<path d="M44.9 441.81H46.7" stroke="#1e1e1e" stroke-width="0.9"/>
<path d="M44.9 440.43H46.7" stroke="#1e1e1e" stroke-width="0.9"/>
<path d="M44.9 431.09H46.7" stroke="#1e1e1e" stroke-width="0.9"/>
<path d="M44.9 426.34H46.7" stroke="#1e1e1e" stroke-width="0.9"/>
<path d="M44.9 422.97H46.7" stroke="#1e1e1e" stroke-width="0.9"/>
<path d="M44.9 420.36H46.7" stroke="#1e1e1e" stroke-width="0.9"/>
<path d="M44.9 418.23H46.7" stroke="#1e1e1e" stroke-width="0.9"/>
<path d="M44.9 416.42H46.7" stroke="#1e1e1e" stroke-width="0.9"/>
<path d="M44.9 414.86H46.7" stroke="#1e1e1e" stroke-width="0.9"/>
<path d="M44.9 413.48H46.7" stroke="#1e1e1e" stroke-width="0.9"/>
<path d="M46.6 547V550.2" stroke="#1e1e1e" stroke-width="1"/>
<text transform="translate(46.6,559.9) scale(0.92,1)" font-size="8.6" fill="#1a1a1a" stroke="#1a1a1a" stroke-width="0.06" text-anchor="middle">0</text>
<path d="M66.8 547V550.2" stroke="#1e1e1e" stroke-width="1"/>
<text transform="translate(66.8,559.9) scale(0.92,1)" font-size="8.6" fill="#1a1a1a" stroke="#1a1a1a" stroke-width="0.06" text-anchor="middle">20</text>
<path d="M87 547V550.2" stroke="#1e1e1e" stroke-width="1"/>
<text transform="translate(87,559.9) scale(0.92,1)" font-size="8.6" fill="#1a1a1a" stroke="#1a1a1a" stroke-width="0.06" text-anchor="middle">40</text>
<path d="M107.2 547V550.2" stroke="#1e1e1e" stroke-width="1"/>
<text transform="translate(107.2,559.9) scale(0.92,1)" font-size="8.6" fill="#1a1a1a" stroke="#1a1a1a" stroke-width="0.06" text-anchor="middle">60</text>
<path d="M127.4 547V550.2" stroke="#1e1e1e" stroke-width="1"/>
<text transform="translate(127.4,559.9) scale(0.92,1)" font-size="8.6" fill="#1a1a1a" stroke="#1a1a1a" stroke-width="0.06" text-anchor="middle">80</text>
<text transform="translate(91,573.2)" font-size="10.2" fill="#1a1a1a" stroke="#1a1a1a" stroke-width="0.24" text-anchor="middle" textLength="70.5" lengthAdjust="spacingAndGlyphs">Cardiac myosin (nM)</text>
<text transform="translate(14.9,479.7) rotate(-90)" font-size="10.2" fill="#1a1a1a" stroke="#1a1a1a" stroke-width="0.24" text-anchor="middle" textLength="96.5" lengthAdjust="spacingAndGlyphs">Thrombin formed (units/mL)</text>
<text transform="translate(10.4,401.4)" font-size="11.5" fill="#000" stroke="#000" stroke-width="0.6" font-weight="bold">I</text>
<path d="M46.7 514.6 L48.2 476.3 L49.3 469 L52.1 461 L56.8 453.3 L67 446 L87.1 441.5 L127.5 439.8" fill="none" stroke="#294b8d" stroke-width="1.15" stroke-linejoin="round"/>
<circle cx="46.7" cy="514.6" r="2.75" fill="none" stroke="#294b8d" stroke-width="0.95"/>
<circle cx="48.2" cy="476.3" r="2.75" fill="none" stroke="#294b8d" stroke-width="0.95"/>
<circle cx="49.3" cy="469" r="2.75" fill="none" stroke="#294b8d" stroke-width="0.95"/>
<circle cx="52.1" cy="461" r="2.75" fill="none" stroke="#294b8d" stroke-width="0.95"/>
<circle cx="56.8" cy="453.3" r="2.75" fill="none" stroke="#294b8d" stroke-width="0.95"/>
<circle cx="67" cy="446" r="2.75" fill="none" stroke="#294b8d" stroke-width="0.95"/>
<circle cx="87.1" cy="441.5" r="2.75" fill="none" stroke="#294b8d" stroke-width="0.95"/>
<circle cx="127.5" cy="439.8" r="2.75" fill="none" stroke="#294b8d" stroke-width="0.95"/>
<path d="M46.9 535.8 L48 528.5 L49.3 526.3 L51.8 524.5 L57 518.3 L66.9 512 L87.1 504.7 L127.5 495.6" fill="none" stroke="#62ad44" stroke-width="1.15" stroke-linejoin="round"/>
<rect x="44.35" y="533.25" width="5.1" height="5.1" fill="none" stroke="#62ad44" stroke-width="0.95"/>
<rect x="45.45" y="525.95" width="5.1" height="5.1" fill="none" stroke="#62ad44" stroke-width="0.95"/>
<rect x="46.75" y="523.75" width="5.1" height="5.1" fill="none" stroke="#62ad44" stroke-width="0.95"/>
<rect x="49.25" y="521.95" width="5.1" height="5.1" fill="none" stroke="#62ad44" stroke-width="0.95"/>
<rect x="54.45" y="515.75" width="5.1" height="5.1" fill="none" stroke="#62ad44" stroke-width="0.95"/>
<rect x="64.35" y="509.45" width="5.1" height="5.1" fill="none" stroke="#62ad44" stroke-width="0.95"/>
<rect x="84.55" y="502.15" width="5.1" height="5.1" fill="none" stroke="#62ad44" stroke-width="0.95"/>
<rect x="124.95" y="493.05" width="5.1" height="5.1" fill="none" stroke="#62ad44" stroke-width="0.95"/>
<path d="M179.9 409.7V547H270" fill="none" stroke="#1e1e1e" stroke-width="1.45"/>
<path d="M176.7 547H179.9" stroke="#1e1e1e" stroke-width="1"/>
<text transform="translate(173.6,549.7) scale(0.92,1)" font-size="8.6" fill="#1a1a1a" stroke="#1a1a1a" stroke-width="0.06" text-anchor="end">0.0</text>
<path d="M176.7 523.12H179.9" stroke="#1e1e1e" stroke-width="1"/>
<text transform="translate(173.6,525.82) scale(0.92,1)" font-size="8.6" fill="#1a1a1a" stroke="#1a1a1a" stroke-width="0.06" text-anchor="end">0.2</text>
<path d="M176.7 499.24H179.9" stroke="#1e1e1e" stroke-width="1"/>
<text transform="translate(173.6,501.94) scale(0.92,1)" font-size="8.6" fill="#1a1a1a" stroke="#1a1a1a" stroke-width="0.06" text-anchor="end">0.4</text>
<path d="M176.7 475.36H179.9" stroke="#1e1e1e" stroke-width="1"/>
<text transform="translate(173.6,478.06) scale(0.92,1)" font-size="8.6" fill="#1a1a1a" stroke="#1a1a1a" stroke-width="0.06" text-anchor="end">0.6</text>
<path d="M176.7 451.48H179.9" stroke="#1e1e1e" stroke-width="1"/>
<text transform="translate(173.6,454.18) scale(0.92,1)" font-size="8.6" fill="#1a1a1a" stroke="#1a1a1a" stroke-width="0.06" text-anchor="end">0.8</text>
<path d="M176.7 427.6H179.9" stroke="#1e1e1e" stroke-width="1"/>
<text transform="translate(173.6,430.3) scale(0.92,1)" font-size="8.6" fill="#1a1a1a" stroke="#1a1a1a" stroke-width="0.06" text-anchor="end">1.0</text>
<path d="M179.9 547V550.2" stroke="#1e1e1e" stroke-width="1"/>
<text transform="translate(179.9,559.9) scale(0.92,1)" font-size="8.6" fill="#1a1a1a" stroke="#1a1a1a" stroke-width="0.06" text-anchor="middle">0</text>
<path d="M208.97 547V550.2" stroke="#1e1e1e" stroke-width="1"/>
<text transform="translate(208.97,559.9) scale(0.92,1)" font-size="8.6" fill="#1a1a1a" stroke="#1a1a1a" stroke-width="0.06" text-anchor="middle">100</text>
<path d="M238.04 547V550.2" stroke="#1e1e1e" stroke-width="1"/>
<text transform="translate(238.04,559.9) scale(0.92,1)" font-size="8.6" fill="#1a1a1a" stroke="#1a1a1a" stroke-width="0.06" text-anchor="middle">200</text>
<path d="M267.11 547V550.2" stroke="#1e1e1e" stroke-width="1"/>
<text transform="translate(267.11,559.9) scale(0.92,1)" font-size="8.6" fill="#1a1a1a" stroke="#1a1a1a" stroke-width="0.06" text-anchor="middle">300</text>
<text transform="translate(225,573.2)" font-size="10.2" fill="#1a1a1a" stroke="#1a1a1a" stroke-width="0.24" text-anchor="middle" textLength="57.3" lengthAdjust="spacingAndGlyphs">Lactadherin (nM)</text>
<text transform="translate(156.7,478.15) rotate(-90)" font-size="10.2" fill="#1a1a1a" stroke="#1a1a1a" stroke-width="0.24" text-anchor="middle" textLength="104.8" lengthAdjust="spacingAndGlyphs">Thrombin formed (normalized)</text>
<text transform="translate(148.3,402.9)" font-size="11.5" fill="#000" stroke="#000" stroke-width="0.6" font-weight="bold">J</text>
<path d="M184.5 474V486M181.8 474h5.4M181.8 486h5.4" fill="none" stroke="#222" stroke-width="1"/>
<path d="M188.5 511.6V524.1M185.8 511.6h5.4M185.8 524.1h5.4" fill="none" stroke="#222" stroke-width="1"/>
<path d="M179.9 427 L184.3 479.9 L189 518.1 L198.5 535.9 L217.2 540.8 L254.2 541.8 L266.9 541.5" fill="none" stroke="#62ad44" stroke-width="1.15" stroke-linejoin="round"/>
<rect x="177.35" y="424.45" width="5.1" height="5.1" fill="none" stroke="#62ad44" stroke-width="0.95"/>
<rect x="181.75" y="477.35" width="5.1" height="5.1" fill="none" stroke="#62ad44" stroke-width="0.95"/>
<rect x="186.45" y="515.55" width="5.1" height="5.1" fill="none" stroke="#62ad44" stroke-width="0.95"/>
<rect x="195.95" y="533.35" width="5.1" height="5.1" fill="none" stroke="#62ad44" stroke-width="0.95"/>
<rect x="214.65" y="538.25" width="5.1" height="5.1" fill="none" stroke="#62ad44" stroke-width="0.95"/>
<rect x="251.65" y="539.25" width="5.1" height="5.1" fill="none" stroke="#62ad44" stroke-width="0.95"/>
<path d="M300.6 409.4V546.9H387.5" fill="none" stroke="#1e1e1e" stroke-width="1.45"/>
<path d="M297.4 546.9H300.6" stroke="#1e1e1e" stroke-width="1"/>
<text transform="translate(294.3,549.6) scale(0.92,1)" font-size="8.6" fill="#1a1a1a" stroke="#1a1a1a" stroke-width="0.06" text-anchor="end">0.0</text>
<path d="M297.4 523H300.6" stroke="#1e1e1e" stroke-width="1"/>
<text transform="translate(294.3,525.7) scale(0.92,1)" font-size="8.6" fill="#1a1a1a" stroke="#1a1a1a" stroke-width="0.06" text-anchor="end">0.2</text>
<path d="M297.4 499.1H300.6" stroke="#1e1e1e" stroke-width="1"/>
<text transform="translate(294.3,501.8) scale(0.92,1)" font-size="8.6" fill="#1a1a1a" stroke="#1a1a1a" stroke-width="0.06" text-anchor="end">0.4</text>
<path d="M297.4 475.2H300.6" stroke="#1e1e1e" stroke-width="1"/>
<text transform="translate(294.3,477.9) scale(0.92,1)" font-size="8.6" fill="#1a1a1a" stroke="#1a1a1a" stroke-width="0.06" text-anchor="end">0.6</text>
<path d="M297.4 451.3H300.6" stroke="#1e1e1e" stroke-width="1"/>
<text transform="translate(294.3,454) scale(0.92,1)" font-size="8.6" fill="#1a1a1a" stroke="#1a1a1a" stroke-width="0.06" text-anchor="end">0.8</text>
<path d="M297.4 427.4H300.6" stroke="#1e1e1e" stroke-width="1"/>
<text transform="translate(294.3,430.1) scale(0.92,1)" font-size="8.6" fill="#1a1a1a" stroke="#1a1a1a" stroke-width="0.06" text-anchor="end">1.0</text>
<path d="M300.6 546.9V550.1" stroke="#1e1e1e" stroke-width="1"/>
<text transform="translate(300.6,559.8) scale(0.92,1)" font-size="8.6" fill="#1a1a1a" stroke="#1a1a1a" stroke-width="0.06" text-anchor="middle">0</text>
<path d="M325.7 546.9V550.1" stroke="#1e1e1e" stroke-width="1"/>
<text transform="translate(325.7,559.8) scale(0.92,1)" font-size="8.6" fill="#1a1a1a" stroke="#1a1a1a" stroke-width="0.06" text-anchor="middle">20</text>
<path d="M350.8 546.9V550.1" stroke="#1e1e1e" stroke-width="1"/>
<text transform="translate(350.8,559.8) scale(0.92,1)" font-size="8.6" fill="#1a1a1a" stroke="#1a1a1a" stroke-width="0.06" text-anchor="middle">40</text>
<path d="M375.9 546.9V550.1" stroke="#1e1e1e" stroke-width="1"/>
<text transform="translate(375.9,559.8) scale(0.92,1)" font-size="8.6" fill="#1a1a1a" stroke="#1a1a1a" stroke-width="0.06" text-anchor="middle">60</text>
<text transform="translate(346,573.1)" font-size="10.2" fill="#1a1a1a" stroke="#1a1a1a" stroke-width="0.24" text-anchor="middle" textLength="48.5" lengthAdjust="spacingAndGlyphs">PLA2 (mU/mL)</text>
<text transform="translate(283,403)" font-size="11.5" fill="#000" stroke="#000" stroke-width="0.6" font-weight="bold">K</text>
<path d="M305.5 491.5V507M302.8 491.5h5.4M302.8 507h5.4" fill="none" stroke="#222" stroke-width="1"/>
<path d="M300.6 427.4 L302.9 478.5 L305.6 499.6 L309.9 525.6 L320 532.6 L339.9 537.5 L378.8 540.2 L387.5 540.2" fill="none" stroke="#62ad44" stroke-width="1.15" stroke-linejoin="round"/>
<rect x="298.05" y="424.85" width="5.1" height="5.1" fill="none" stroke="#62ad44" stroke-width="0.95"/>
<rect x="300.35" y="475.95" width="5.1" height="5.1" fill="none" stroke="#62ad44" stroke-width="0.95"/>
<rect x="303.05" y="497.05" width="5.1" height="5.1" fill="none" stroke="#62ad44" stroke-width="0.95"/>
<rect x="307.35" y="523.05" width="5.1" height="5.1" fill="none" stroke="#62ad44" stroke-width="0.95"/>
<rect x="317.45" y="530.05" width="5.1" height="5.1" fill="none" stroke="#62ad44" stroke-width="0.95"/>
<rect x="337.35" y="534.95" width="5.1" height="5.1" fill="none" stroke="#62ad44" stroke-width="0.95"/>
<rect x="376.25" y="537.65" width="5.1" height="5.1" fill="none" stroke="#62ad44" stroke-width="0.95"/>
<path d="M44.2 531.2h5M44.2 520.3h4.5M44.2 544.0h5.2" stroke="#222" stroke-width="1"/>
<path d="M82.4 525.2H92.9" stroke="#294b8d" stroke-width="1.1"/>
<circle cx="87.7" cy="525.2" r="2.65" fill="none" stroke="#294b8d" stroke-width="0.95"/>
<path d="M82.4 539.3H92.9" stroke="#62ad44" stroke-width="1.1"/>
<rect x="85.15" y="536.75" width="5.1" height="5.1" fill="none" stroke="#62ad44" stroke-width="0.95"/>
<text transform="translate(100,528.4)" font-size="9.6" fill="#1a1a1a" stroke="#1a1a1a" stroke-width="0.24" textLength="11.6" lengthAdjust="spacingAndGlyphs">fXa</text>
<text transform="translate(100,542.3)" font-size="9.6" fill="#1a1a1a" stroke="#1a1a1a" stroke-width="0.24" textLength="27" lengthAdjust="spacingAndGlyphs">GD-fXa</text>
<rect x="0" y="0" width="520" height="583" fill="none" stroke="#000" stroke-width="2.4"/>
</svg>
</body></html>
